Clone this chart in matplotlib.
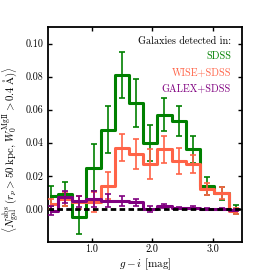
import matplotlib
matplotlib.use("Agg")
import matplotlib.pyplot as plt

plt.rcParams["font.family"] = "serif"
plt.rcParams["font.serif"] = ["cmr10"]
plt.rcParams["mathtext.fontset"] = "cm"
plt.rcParams["axes.formatter.use_mathtext"] = True

# bin centres in g-i
g_i = [0.32, 0.55, 0.79, 1.03, 1.26, 1.50, 1.73, 1.97, 2.20, 2.44, 2.68, 2.91, 3.15, 3.38]

sdss = [0.008, 0.009, -0.005, 0.025, 0.048, 0.081, 0.064, 0.040, 0.057, 0.053, 0.036, 0.014, 0.0095, -0.0005]
sdss_err = [0.006, 0.007, 0.010, 0.014, 0.014, 0.014, 0.0145, 0.011, 0.010, 0.009, 0.008, 0.0055, 0.004, 0.0027]

wise = [0.003, 0.006, 0.004, 0.004, 0.014, 0.037, 0.033, 0.027, 0.036, 0.029, 0.027, 0.012, 0.0095, -0.0013]
wise_err = [0.003, 0.004, 0.004, 0.006, 0.008, 0.008, 0.009, 0.009, 0.008, 0.008, 0.0055, 0.0035, 0.0035, 0.002]

galex = [-0.001, 0.007, 0.0045, 0.006, 0.005, 0.0045, 0.004, 0.0, 0.0017, 0.0005, 0.0007, 0.0, 0.0, -0.0005]
galex_err = [0.003, 0.0037, 0.0035, 0.005, 0.004, 0.003, 0.0022, 0.0017, 0.001, 0.0008, 0.0008, 0.0006, 0.0006, 0.0006]

series = [
    ("SDSS", sdss, sdss_err, "green"),
    ("WISE+SDSS", wise, wise_err, "tomato"),
    ("GALEX+SDSS", galex, galex_err, "purple"),
]

fig = plt.figure(figsize=(2.7, 2.7), dpi=100)
ax = fig.add_axes([0.179, 0.104, 0.716, 0.796])

for z, (name, vals, errs, col) in enumerate(series):
    ax.plot(g_i, vals, drawstyle="steps-mid", color=col, lw=2.2, zorder=2 + z)
    ax.errorbar(g_i, vals, yerr=errs, fmt="none", ecolor=col, elinewidth=1.4,
                capsize=2.5, capthick=1.4, alpha=0.85, zorder=2 + z)

ax.axhline(0, color="black", ls="--", lw=2, dashes=(2, 1.2), zorder=10)

ax.set_xlim(0.28, 3.48)
ax.set_ylim(-0.02, 0.11)
ax.set_xticks([1.0, 2.0, 3.0])
ax.set_yticks([0.0, 0.02, 0.04, 0.06, 0.08, 0.10])
ax.set_xticklabels(["1.0", "2.0", "3.0"])
ax.set_yticklabels(["0.00", "0.02", "0.04", "0.06", "0.08", "0.10"])
ax.tick_params(direction="in", top=True, right=True, length=3, width=1, labelsize=7.3)
ax.tick_params(axis="x", pad=1.5)
for s in ax.spines.values():
    s.set_linewidth(1.3)

ax.set_xlabel(r"$g-i$ [mag]", fontsize=8)
ax.xaxis.set_label_coords(0.5, -0.066)
ax.set_ylabel(r"$\langle N_{\rm gal}^{\rm abs}\;(r_p>50\;{\rm kpc},\,W_0^{\rm MgII}>0.4\;{\rm \AA})\rangle$",
              fontsize=7.8)
ax.yaxis.set_label_coords(-0.135, 0.43)

ax.text(0.945, 0.935, "Galaxies detected in:", transform=ax.transAxes, ha="right", va="center", fontsize=7.3)
for i, (name, vals, errs, col) in enumerate(series):
    ax.text(0.945, 0.862 - 0.075 * i, name, color=col, transform=ax.transAxes,
            ha="right", va="center", fontsize=7.3)

fig.savefig("out.png", dpi=100)
